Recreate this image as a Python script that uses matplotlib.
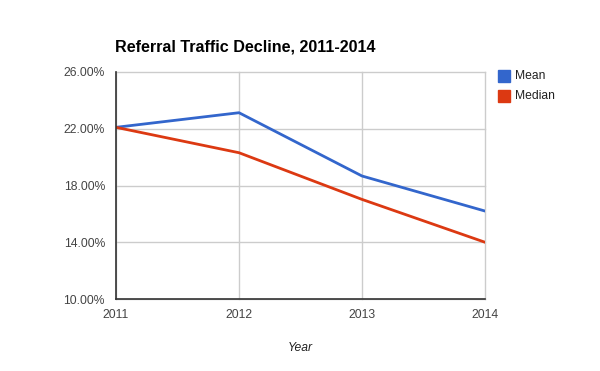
import matplotlib
matplotlib.use("Agg")
import matplotlib.pyplot as plt
from matplotlib.patches import Rectangle

# Data
years = [2011, 2012, 2013, 2014]
mean_vals = [22.1, 23.13, 18.67, 16.2]
median_vals = [22.1, 20.31, 17.02, 14.0]
y_ticks = [10, 14, 18, 22, 26]
series_names = ["Mean", "Median"]
colors = ["#3366cc", "#dc3912"]

plt.rcParams['font.family'] = ['Liberation Sans', 'DejaVu Sans']

fig = plt.figure(figsize=(6, 3.71), dpi=100)
ax = fig.add_axes([116 / 600, 1 - 299 / 371, (485 - 116) / 600, (299 - 72) / 371])

ax.plot(years, mean_vals, color=colors[0], lw=2, solid_joinstyle='round')
ax.plot(years, median_vals, color=colors[1], lw=2, solid_joinstyle='round')

ax.set_xlim(2011, 2014)
ax.set_ylim(10, 26)
ax.set_xticks(years)
ax.set_yticks(y_ticks)
ax.set_yticklabels([f"{v:.2f}%" for v in y_ticks])
ax.grid(True, color="#cccccc", lw=1)
for gl in ax.get_xgridlines() + ax.get_ygridlines():
    gl.set_clip_on(False)
ax.set_axisbelow(True)
ax.tick_params(length=0, labelsize=8.7, labelcolor="#444444")
ax.tick_params(axis='y', pad=8)
ax.tick_params(axis='x', pad=7)
for s in ["top", "right"]:
    ax.spines[s].set_visible(False)
for s in ["left", "bottom"]:
    ax.spines[s].set_color("#333333")
    ax.spines[s].set_linewidth(1.2)

ax.set_xlabel("Year", style="italic", fontsize=8.7, color="#222222", labelpad=15)

fig.text(115 / 600, 1 - 51 / 371, "Referral Traffic Decline, 2011-2014",
         fontsize=11.6, fontweight="bold", color="#000000", va="baseline")

# Legend drawn manually, Google Charts style
for i, (name, c) in enumerate(zip(series_names, colors)):
    y = 76 + i * 20
    fig.patches.append(Rectangle((498 / 600, 1 - (y + 6) / 371), 12 / 600, 12 / 371,
                                 transform=fig.transFigure, color=c, figure=fig))
    fig.text(515 / 600, 1 - y / 371, name, fontsize=8.7, color="#222222", va="center")

fig.savefig("out.png", dpi=100)
